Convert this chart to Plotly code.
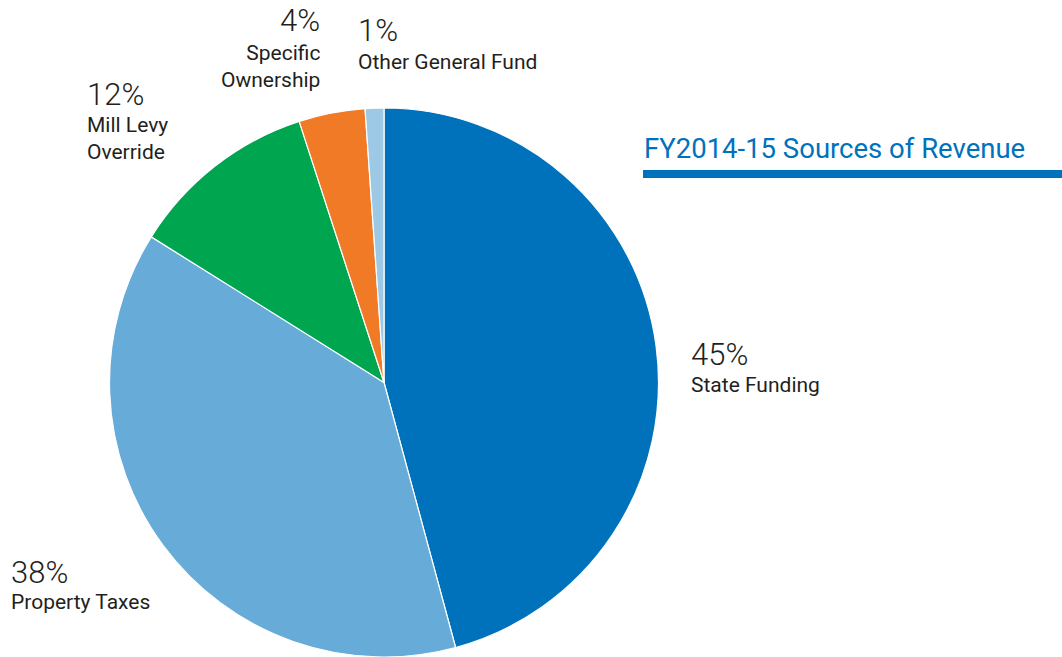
import plotly.graph_objects as go

W, H = 1062, 657

categories = ["State Funding", "Property Taxes", "Mill Levy Override", "Specific Ownership", "Other General Fund"]
values = [45.8, 38.1, 11.1, 3.9, 1.1]
pct_labels = ["45%", "38%", "12%", "4%", "1%"]
label_text = ["State Funding", "Property Taxes", "Mill Levy<br>Override", "Specific<br>Ownership", "Other General Fund"]
colors = ["#0072BC", "#67ABD8", "#00A54F", "#F07A25", "#9DC8E6"]

# label layout (pixel anchor x, pct center y, label center y, xanchor)
label_pos = [
    (689, 354, 385, "left"),
    (9, 572, 602, "left"),
    (85, 95, 139, "left"),
    (322, 20, 66, "right"),
    (356, 30, 62, "left"),
]

fig = go.Figure()
fig.add_trace(go.Pie(
    labels=categories,
    values=values,
    sort=False,
    direction="clockwise",
    rotation=0,
    marker=dict(colors=colors, line=dict(color="white", width=1.2)),
    textinfo="none",
    hoverinfo="label+percent",
    showlegend=False,
    domain=dict(x=[(384 - 276) / W, (384 + 276) / W], y=[0, 1 - 108 / H]),
))

def px(x):
    return x / W

def py(y):
    return 1 - y / H

ann = []
for i, (x, yp, yl, xa) in enumerate(label_pos):
    ann.append(dict(x=px(x), y=py(yp), xref="paper", yref="paper", xanchor=xa, yanchor="middle",
                    text=pct_labels[i], showarrow=False,
                    font=dict(family="Roboto", size=31, color="#231F20", weight=300)))
    ann.append(dict(x=px(x), y=py(yl), xref="paper", yref="paper", xanchor=xa, yanchor="middle",
                    text=label_text[i], showarrow=False, align=xa,
                    font=dict(family="Roboto", size=21, color="#231F20", weight=400)))

ann.append(dict(x=px(642), y=py(148), xref="paper", yref="paper", xanchor="left", yanchor="middle",
                text="FY2014-15 Sources of Revenue", showarrow=False,
                font=dict(family="Roboto", size=27.5, color="#0072BC", weight=400)))

fig.update_layout(
    width=W, height=H,
    margin=dict(l=0, r=0, t=0, b=0),
    paper_bgcolor="white", plot_bgcolor="white",
    annotations=ann,
    shapes=[dict(type="rect", xref="paper", yref="paper", x0=px(643), x1=1.0, y0=py(178), y1=py(170),
                 fillcolor="#0072BC", line=dict(width=0))],
)

fig.write_html("out.html", post_script="document.body.style.margin='0';",
               config={"displayModeBar": False})
